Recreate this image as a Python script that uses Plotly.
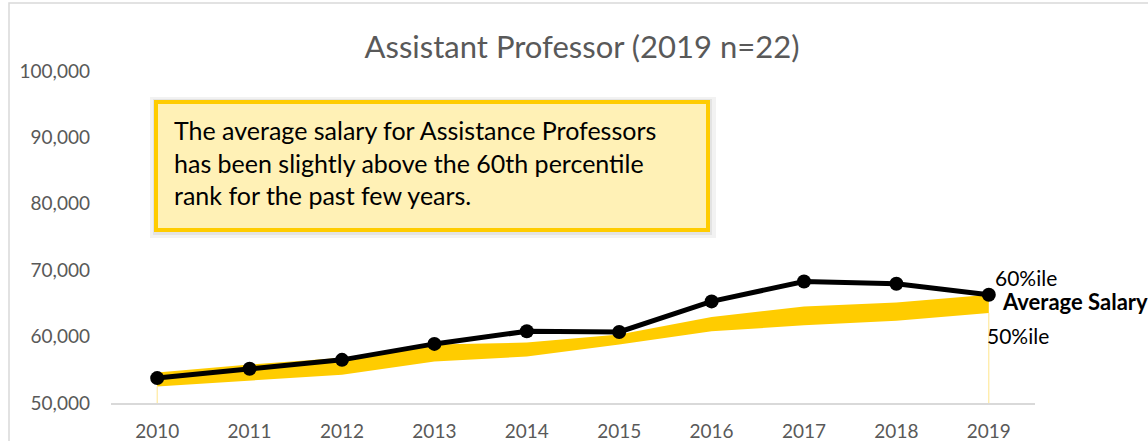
import plotly.graph_objects as go

years = ["2010", "2011", "2012", "2013", "2014", "2015", "2016", "2017", "2018", "2019"]
pct60 = [54600, 55800, 56800, 58800, 59100, 60300, 62950, 64550, 65150, 66300]
pct50 = [52500, 53400, 54250, 56250, 57000, 58800, 60800, 61700, 62400, 63550]
avg_salary = [53750, 55150, 56500, 58900, 60800, 60700, 65300, 68300, 67950, 66300]

GREY = "#595959"
GOLD = "#FFCC00"
FONT = "Lato"

W, H = 1148, 441
ML, MR, MT, MB = 111, 113, 71, 38
PW, PH = W - ML - MR, H - MT - MB


def px_x(px):
    return (px - ML) / PW


def px_y(py):
    return (H - MB - py) / PH


fig = go.Figure()

# band 50%ile -> 60%ile
fig.add_trace(go.Scatter(x=years, y=pct50, mode="lines", line=dict(width=0, color=GOLD),
                         hoverinfo="skip", showlegend=False))
fig.add_trace(go.Scatter(x=years, y=pct60, mode="lines", line=dict(width=0, color=GOLD),
                         fill="tonexty", fillcolor=GOLD, name="60%ile", showlegend=False))

# thin drop lines at the band ends
for i in (0, len(years) - 1):
    fig.add_trace(go.Scatter(x=[years[i], years[i]], y=[50000, pct50[i]], mode="lines",
                             line=dict(width=1, color="#FFE58A"), hoverinfo="skip", showlegend=False))

fig.add_trace(go.Scatter(x=years, y=avg_salary, mode="lines+markers", name="Average Salary",
                         line=dict(color="black", width=5),
                         marker=dict(color="black", size=14), showlegend=False))

# chart outline (top + left edges visible)
fig.add_shape(type="rect", xref="paper", yref="paper",
              x0=px_x(9), x1=px_x(W + 20), y0=px_y(H + 20), y1=px_y(3),
              line=dict(color="#D9D9D9", width=1.5), fillcolor="rgba(0,0,0,0)", layer="below")

# text box with shadow
fig.add_shape(type="rect", xref="paper", yref="paper",
              x0=px_x(150), x1=px_x(716), y0=px_y(238), y1=px_y(97),
              line=dict(width=0), fillcolor="rgba(0,0,0,0.05)")
fig.add_shape(type="rect", xref="paper", yref="paper",
              x0=px_x(153), x1=px_x(712), y0=px_y(235), y1=px_y(99),
              line=dict(width=0), fillcolor="rgba(0,0,0,0.06)")
fig.add_shape(type="rect", xref="paper", yref="paper",
              x0=px_x(156), x1=px_x(708), y0=px_y(230), y1=px_y(102),
              line=dict(color=GOLD, width=4), fillcolor="#FFF1B6")
fig.add_annotation(xref="paper", yref="paper", x=px_x(172), y=px_y(162),
                   xanchor="left", yanchor="middle", align="left", showarrow=False,
                   text="The average salary for Assistance Professors<br>"
                        "has been slightly above the 60th percentile<br>"
                        "rank for the past few years.",
                   font=dict(family=FONT, size=25, color="black"))

# end labels
last = len(years) - 1
fig.add_annotation(x=last, y=pct60[-1], text="60%ile", showarrow=False, xanchor="left",
                   yanchor="middle", xshift=4, yshift=17, font=dict(family=FONT, size=21, color="black"))
fig.add_annotation(x=last, y=avg_salary[-1], text="<b>Average Salary</b>", showarrow=False,
                   xanchor="left", yanchor="middle", xshift=11, yshift=-7,
                   font=dict(family=FONT, size=22, color="black"))
fig.add_annotation(x=last, y=pct50[-1], text="50%ile", showarrow=False, xanchor="left",
                   yanchor="middle", xshift=-4, yshift=-22, font=dict(family=FONT, size=21, color="black"))

fig.update_layout(
    width=W, height=H,
    margin=dict(l=ML, r=MR, t=MT, b=MB),
    paper_bgcolor="white", plot_bgcolor="white",
    title=dict(text="Assistant Professor (2019 n=22)", x=582 / W, xanchor="center",
               y=1 - 47 / H, yanchor="middle", yref="container",
               font=dict(family=FONT, size=31, color=GREY)),
    xaxis=dict(type="category", range=[-0.5, 9.5], showgrid=False, zeroline=False,
               showline=True, linecolor="#D9D9D9", linewidth=1.5, ticks="", automargin=False,
               ticklabelstandoff=10, tickfont=dict(family=FONT, size=19, color=GREY)),
    yaxis=dict(range=[50000, 100000], dtick=10000, tickformat=",d", showgrid=False,
               zeroline=False, showline=False, ticks="", ticklabelstandoff=20, automargin=False,
               tickfont=dict(family=FONT, size=19, color=GREY)),
)

fig.write_html("out.html", config={"displayModeBar": False},
               post_script="document.body.style.margin='0px';")
